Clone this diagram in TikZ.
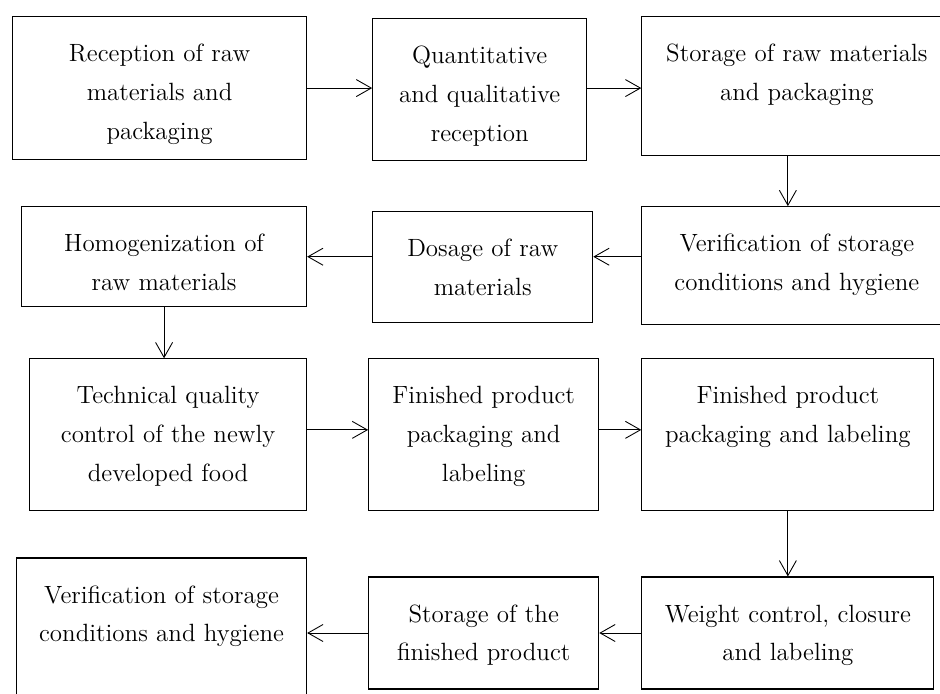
\documentclass[tikz,border=0pt]{standalone}
\usepackage{tikz}
\usetikzlibrary{arrows.meta,
                calc,
                positioning}
\tikzstyle{stage} = [rectangle, draw=black, line width=0.65pt, inner sep=0pt, align=center, text height=0.9cm, font=\fontsize{14.2}{22.1}\selectfont]
\tikzstyle{arrow} = [line width=0.5pt, -{Straight Barb[length=0.3cm, width=0.34cm, line width=0.5pt]}]

\begin{document}
\begin{tikzpicture}
	\useasboundingbox (0,0) rectangle (18.8,-13.86);
	\clip (0,0) rectangle (18.8,-13.86);
	\node (recep) [stage, anchor=north west, text width=5.88cm, text depth=1.96cm] at (0.24,-0.32) {Reception of raw\\ materials and\\ packaging};
	\node (quant) [stage, right=1.3cm of recep.north east, anchor=north west, yshift=-0.04cm, text width=4.28cm, text depth=1.94cm] {Quantitative\\ and qualitative\\ reception};
	\node (store) [stage, right=1.08cm of quant.north east, anchor=north west, yshift=0.04cm, text width=6.2cm, text depth=1.88cm] {Storage of raw materials\\ and packaging};
	\node (verif) [stage, below=1.0cm of store.south west, anchor=north west, text width=6.2cm, text depth=1.46cm] {Verification of storage\\ conditions and hygiene};
	\node (dosage) [stage, left=0.96cm of verif.north west, anchor=north east, yshift=-0.1cm, text width=4.4cm, text depth=1.32cm] {Dosage of raw\\ materials};
	\node (homog) [stage, left=1.3cm of dosage.north west, anchor=north east, yshift=0.1cm, text width=5.7cm, text depth=1.1cm] {Homogenization of\\ raw materials};
	\node (techn) [stage, below=1.02cm of homog.south west, anchor=north west, xshift=0.16cm, text width=5.54cm, text depth=2.14cm] {Technical quality\\ control of the newly\\ developed food};
	\node (finish1) [stage, right=1.22cm of techn.north east, anchor=north west, text width=4.6cm, text depth=2.14cm] {Finished product\\ packaging and\\ labeling};
	\node (finish2) [stage, right=0.84cm of finish1.north east, anchor=north west, text width=5.84cm, text depth=2.14cm] {Finished product\\ packaging and labeling};
	\node (weight) [stage, below=1.3cm of finish2.south west, anchor=north west, text width=5.84cm, text depth=1.34cm] {Weight control, closure\\ and labeling};
	\node (storfin) [stage, left=0.84cm of weight.north west, anchor=north east, text width=4.6cm, text depth=1.34cm] {Storage of the\\ finished product};
	\node (verif2) [stage, left=1.22cm of storfin.north west, anchor=north east, yshift=0.38cm, text width=5.8cm, text depth=2.18cm] {Verification of storage\\ conditions and hygiene};
	% 
	\draw [arrow] (recep.east) -- (recep.east -| quant.west);
	\draw [arrow] (recep.east -| quant.east) -- (recep.east -| store.west);
	\draw [arrow] (store.south -| finish2) -- (verif.north -| finish2);
	\draw [arrow] (verif.west |- homog) -- (dosage.east |- homog);
	\draw [arrow] (dosage.west |- homog) -- (homog.east);
	\draw [arrow] (homog.south) -- (homog.south |- techn.north);
	\draw [arrow] ([yshift=0.1cm]techn.east) -- ([yshift=0.1cm]techn.east -| finish1.west);
	\draw [arrow] ([yshift=0.1cm]finish1.east) -- ([yshift=0.1cm]finish1.east -| finish2.west);
	\draw [arrow] (finish2) -- (weight);
	\draw [arrow] (weight) -- (storfin);
	\draw [arrow] (storfin.west) -- (storfin.west -| verif2.east);
\end{tikzpicture}
\end{document}
